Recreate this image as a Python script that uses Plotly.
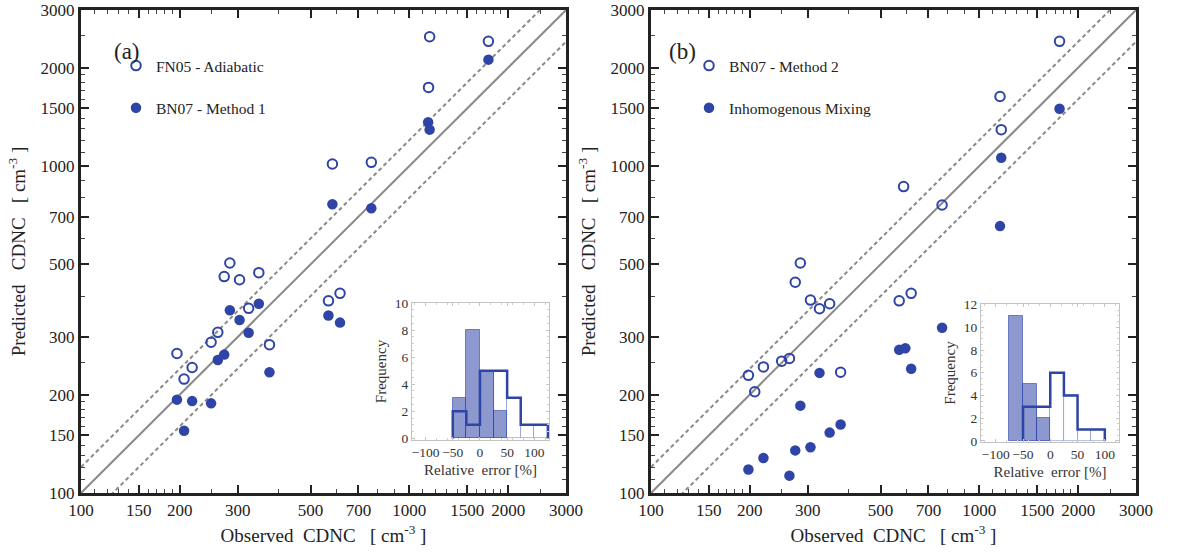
import numpy as np
import plotly.graph_objects as go

# ---------------- data ----------------
# Panel (a)
obs_a = [1153, 1741, 1144, 583, 766, 284, 273, 304, 348, 567, 615, 324, 261, 249, 375, 196, 218, 206]
fn05_adiabatic = [2485, 2406, 1739, 1014, 1026, 505, 459, 449, 472, 387, 408, 367, 310, 289, 284, 267, 242, 223]
obs_a_m1 = [1741, 1141, 1153, 583, 766, 284, 348, 304, 324, 567, 615, 273, 261, 375, 196, 218, 249, 206]
bn07_method1 = [2115, 1361, 1292, 764, 743, 362, 379, 338, 309, 349, 332, 265, 255, 234, 193, 191, 188, 155]

# Panel (b)
obs_b = [1755, 1156, 1166, 588, 770, 285, 275, 306, 326, 350, 570, 620, 250, 264, 378, 198, 220, 207]
bn07_method2 = [2406, 1631, 1292, 865, 760, 505, 441, 389, 366, 379, 387, 408, 253, 258, 234, 229, 243, 204]
obs_b_mix = [1755, 1166, 1156, 770, 570, 595, 620, 326, 285, 378, 350, 306, 275, 220, 198, 264]
inhomog_mixing = [1496, 1060, 655, 320, 274, 277, 240, 233, 185, 162, 153, 138, 135, 128, 118, 113]

# Histograms of relative error [%] (bin width 25)
bin_width = 25
hist_a_fill_start, hist_a_fill = -50, [3, 8, 5, 2]
hist_a_line_start, hist_a_line = -50, [2, 1, 5, 5, 3, 1, 1]
hist_b_fill_start, hist_b_fill = -75, [11, 5, 2]
hist_b_line_start, hist_b_line = -50, [3, 3, 6, 4, 1, 1]

# reference lines y = f * x
ref_x = [100, 3000]
ref_factors = [1.0, 1.2, 0.8]

main_ticks = [100, 150, 200, 300, 500, 700, 1000, 1500, 2000, 3000]
minor_ticks = [110, 120, 130, 140, 160, 170, 180, 190, 250, 400, 600, 800, 900,
               1100, 1200, 1300, 1400, 1600, 1700, 1800, 1900, 2500]
hist_xticks = [-100, -50, 0, 50, 100]

# ---------------- style ----------------
W, H = 1179, 553
BLUE = "#2E44A6"
FILL = "rgba(46,68,166,0.55)"
SERIF = "Liberation Serif"
GREY = "#8a8a8a"
TOP, BOTTOM = 10, 493


def px_x(p):
    return p / W


def px_y(p):
    return 1 - p / H


fig = go.Figure()

panels = [
    dict(xa="x", ya="y", leg="legend",
         s1=(obs_a, fn05_adiabatic, "FN05 - Adiabatic"),
         s2=(obs_a_m1, bn07_method1, "BN07 - Method 1")),
    dict(xa="x2", ya="y2", leg="legend2",
         s1=(obs_b, bn07_method2, "BN07 - Method 2"),
         s2=(obs_b_mix, inhomog_mixing, "Inhomogenous Mixing")),
]

for p in panels:
    for f in ref_factors:
        fig.add_trace(go.Scatter(
            x=ref_x, y=[v * f for v in ref_x], mode="lines",
            line=dict(color=GREY, width=2, dash="solid" if f == 1.0 else "4px,3px"),
            xaxis=p["xa"], yaxis=p["ya"], showlegend=False, hoverinfo="skip"))
    fig.add_trace(go.Scatter(
        x=p["s1"][0], y=p["s1"][1], mode="markers", name=p["s1"][2],
        marker=dict(symbol="circle-open", size=9.5, color=BLUE, line=dict(width=2, color=BLUE)),
        xaxis=p["xa"], yaxis=p["ya"], legend=p["leg"], legendgroup=p["s1"][2]))
    fig.add_trace(go.Scatter(
        x=p["s2"][0], y=p["s2"][1], mode="markers", name=p["s2"][2],
        marker=dict(symbol="circle", size=10.5, color=BLUE),
        xaxis=p["xa"], yaxis=p["ya"], legend=p["leg"], legendgroup=p["s2"][2]))


def step(start, counts):
    edges = start + bin_width * np.arange(len(counts) + 1)
    xs, ys = [edges[0]], [0]
    for i, c in enumerate(counts):
        xs += [edges[i], edges[i + 1]]
        ys += [c, c]
    xs.append(edges[-1])
    ys.append(0)
    return xs, ys


def centers(start, counts):
    return start + bin_width * (np.arange(len(counts)) + 0.5)


insets = [
    dict(xa="x3", ya="y3", fs=hist_a_fill_start, fc=hist_a_fill, ls=hist_a_line_start, lc=hist_a_line),
    dict(xa="x4", ya="y4", fs=hist_b_fill_start, fc=hist_b_fill, ls=hist_b_line_start, lc=hist_b_line),
]
for h in insets:
    fig.add_trace(go.Bar(
        x=centers(h["ls"], h["lc"]), y=h["lc"], width=bin_width,
        marker=dict(color="white", line=dict(color="rgba(46,68,166,0.45)", width=0.8)),
        xaxis=h["xa"], yaxis=h["ya"], showlegend=False, hoverinfo="skip"))
    fig.add_trace(go.Bar(
        x=centers(h["fs"], h["fc"]), y=h["fc"], width=bin_width,
        marker=dict(color=FILL, line=dict(color="rgba(46,68,166,0.6)", width=1)),
        xaxis=h["xa"], yaxis=h["ya"], showlegend=False, hoverinfo="skip"))
    sx, sy = step(h["ls"], h["lc"])
    fig.add_trace(go.Scatter(
        x=sx, y=sy, mode="lines", line=dict(color=BLUE, width=2.5),
        xaxis=h["xa"], yaxis=h["ya"], showlegend=False, hoverinfo="skip"))

main_axis = dict(
    type="log", range=[2, np.log10(3000)], tickmode="array", tickvals=main_ticks,
    ticktext=[str(v) for v in main_ticks], ticks="inside", ticklen=8, tickwidth=2,
    tickcolor="#222", showline=True, linewidth=3, linecolor="#222", mirror="allticks",
    showgrid=False, zeroline=False, automargin=False, ticklabeloverflow="allow",
    tickfont=dict(family=SERIF, size=17, color="#222"),
    minor=dict(tickmode="array", tickvals=minor_ticks, ticks="inside", ticklen=4,
               tickwidth=1, tickcolor="#444", showgrid=False),
)

inset_axis = dict(
    showline=True, linewidth=1, linecolor="#c4c4c4", mirror="allticks", ticks="inside",
    ticklen=3, tickwidth=1, tickcolor="#c4c4c4", showgrid=False, zeroline=False,
    automargin=False, ticklabeloverflow="allow",
    tickfont=dict(family=SERIF, size=13.5, color="#333"),
    minor=dict(ticks="inside", ticklen=2, tickcolor="#d0d0d0", showgrid=False),
)

xt_font = dict(family=SERIF, size=19, color="#222")
xtitle = "Observed\u00a0\u00a0CDNC\u00a0\u00a0\u00a0[\u00a0cm<sup>-3</sup>\u00a0]"
ytitle = "Predicted\u00a0\u00a0\u00a0CDNC\u00a0\u00a0\u00a0[\u00a0cm<sup>-3</sup>\u00a0]"
htitle = "Relative\u00a0\u00a0error\u00a0[%]"
hfont = dict(family=SERIF, size=15, color="#333")

fig.update_layout(
    width=W, height=H, margin=dict(l=0, r=0, t=0, b=0, autoexpand=False),
    paper_bgcolor="white", plot_bgcolor="white", barmode="overlay", bargap=0,
    showlegend=True,
    xaxis=dict(main_axis, domain=[px_x(81), px_x(566)], anchor="y",
               title=dict(text=xtitle, font=xt_font, standoff=10)),
    yaxis=dict(main_axis, domain=[px_y(BOTTOM), px_y(TOP)], anchor="x",
               title=dict(text=ytitle, font=xt_font, standoff=10)),
    xaxis2=dict(main_axis, domain=[px_x(651), px_x(1136)], anchor="y2",
                title=dict(text=xtitle, font=xt_font, standoff=10)),
    yaxis2=dict(main_axis, domain=[px_y(BOTTOM), px_y(TOP)], anchor="x2",
                title=dict(text=ytitle, font=xt_font, standoff=10)),
    xaxis3=dict(inset_axis, domain=[px_x(412), px_x(549)], anchor="y3", range=[-125, 127],
                tickmode="array", tickvals=hist_xticks,
                title=dict(text=htitle, font=hfont, standoff=5)),
    yaxis3=dict(inset_axis, domain=[px_y(440), px_y(303)], anchor="x3", range=[-0.12, 10],
                dtick=2, title=dict(text="Frequency", font=hfont, standoff=4)),
    xaxis4=dict(inset_axis, domain=[px_x(981), px_x(1119)], anchor="y4", range=[-127, 126],
                tickmode="array", tickvals=hist_xticks,
                title=dict(text=htitle, font=hfont, standoff=5)),
    yaxis4=dict(inset_axis, domain=[px_y(442), px_y(304)], anchor="x4", range=[-0.1, 12.05],
                dtick=2, title=dict(text="Frequency", font=hfont, standoff=4)),
    legend=dict(x=px_x(116), y=px_y(49), xanchor="left", yanchor="top", bgcolor="rgba(0,0,0,0)",
                font=dict(family=SERIF, size=15.5, color="#222"), tracegroupgap=19,
                traceorder="grouped"),
    legend2=dict(x=px_x(689), y=px_y(49), xanchor="left", yanchor="top", bgcolor="rgba(0,0,0,0)",
                 font=dict(family=SERIF, size=15.5, color="#222"), tracegroupgap=19,
                 traceorder="grouped"),
    annotations=[
        dict(text="(a)", x=px_x(112), y=px_y(37), xref="paper", yref="paper", showarrow=False,
             font=dict(family=SERIF, size=23, color="#222")),
        dict(text="(b)", x=px_x(682), y=px_y(37), xref="paper", yref="paper", showarrow=False,
             font=dict(family=SERIF, size=23, color="#222")),
    ],
)

fig.write_html("out.html")
